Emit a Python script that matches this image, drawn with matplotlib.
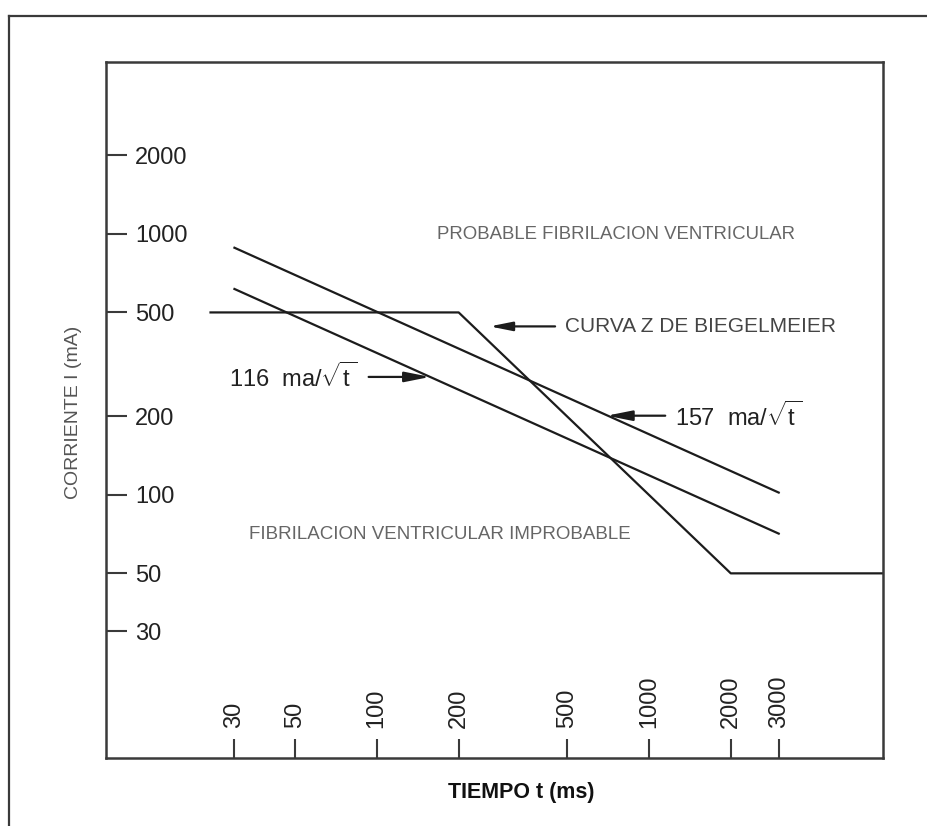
import matplotlib
matplotlib.use('Agg')
import matplotlib.pyplot as plt
from matplotlib.lines import Line2D

# Ticks of the log-log chart
x_ticks = [30, 50, 100, 200, 500, 1000, 2000, 3000]
y_ticks = [30, 50, 100, 200, 500, 1000, 2000]

# Curva Z de Biegelmeier (t en ms, I en mA)
z_t = [24.5, 200, 2000, 10000]
z_i = [500, 500, 50, 50]

# Rectas 157 ma/sqrt(t) y 116 ma/sqrt(t), extremos
l157_t = [30, 3000]
l157_i = [885, 102]
l116_t = [30, 3000]
l116_i = [615, 71]

plt.rcParams['font.family'] = ['Liberation Sans', 'DejaVu Sans']
plt.rcParams['mathtext.fontset'] = 'custom'
plt.rcParams['mathtext.rm'] = 'Liberation Sans'
plt.rcParams['mathtext.it'] = 'Liberation Sans'

line_c = '#1c1c1c'
frame_c = '#3a3a3a'

fig = plt.figure(figsize=(9.28, 8.26), dpi=100)
ax = fig.add_axes([0.114, 0.0823, 0.8375, 0.8427])

# outer frame of the original figure (top and left only)
fig.add_artist(Line2D([0.0097, 1.0], [0.9806, 0.9806], transform=fig.transFigure,
                      color=frame_c, lw=1.6))
fig.add_artist(Line2D([0.0097, 0.0097], [0.0, 0.9806], transform=fig.transFigure,
                      color=frame_c, lw=1.6))

ax.plot(z_t, z_i, color=line_c, lw=1.6)
ax.plot(l157_t, l157_i, color=line_c, lw=1.6)
ax.plot(l116_t, l116_i, color=line_c, lw=1.6)

ax.set_xscale('log')
ax.set_yscale('log')
ax.set_xlim(10.1, 7250)
ax.set_ylim(9.8, 4560)

ax.set_xticks(x_ticks)
ax.set_xticklabels([str(v) for v in x_ticks])
ax.set_yticks(y_ticks)
ax.set_yticklabels([str(v) for v in y_ticks])
ax.minorticks_off()

ax.tick_params(axis='y', direction='in', length=15, width=1.5, color=frame_c,
               pad=-21, labelsize=17, labelcolor='#222222')
ax.tick_params(axis='x', direction='in', length=14, width=1.5, color=frame_c,
               pad=-21.5, labelsize=17, labelcolor='#222222', labelrotation=90)
plt.setp(ax.get_yticklabels(), ha='left')
plt.setp(ax.get_xticklabels(), va='bottom', ha='center')

for s in ax.spines.values():
    s.set_linewidth(1.8)
    s.set_color(frame_c)

ax.set_ylabel('CORRIENTE I (mA)', fontsize=14, color='#555555')
ax.yaxis.set_label_coords(-0.041, 0.497)
ax.yaxis.label.set_va('center')
ax.set_xlabel('TIEMPO t (ms)', fontsize=15.5, fontweight='bold', color='#111111')
ax.xaxis.set_label_coords(0.535, -0.050)
ax.xaxis.label.set_va('center')

ax.text(757, 991, 'PROBABLE FIBRILACION VENTRICULAR', fontsize=13.4,
        color='#666666', ha='center', va='center')
ax.text(171, 70.3, 'FIBRILACION VENTRICULAR IMPROBABLE', fontsize=13.5,
        color='#666666', ha='center', va='center')

arrow = dict(arrowstyle='-|>,head_length=0.9,head_width=0.18', lw=1.6,
             color=line_c, shrinkB=0)
ax.annotate('CURVA Z DE BIEGELMEIER', xy=(260, 442), xytext=(491, 442),
            fontsize=15, color='#444444', ha='left', va='center',
            arrowprops=dict(arrow, shrinkA=5))
ax.annotate(r'157  ma/$\sqrt{\mathrm{t}\,}$', xy=(700, 201), xytext=(1247, 201),
            fontsize=17, color='#222222', ha='left', va='center',
            arrowprops=dict(arrow, shrinkA=5))
ax.annotate(r'116  ma/$\sqrt{\mathrm{t}\,}$', xy=(157, 283), xytext=(85, 283),
            fontsize=17, color='#222222', ha='right', va='center',
            arrowprops=dict(arrow, shrinkA=6))

fig.savefig('out.png', dpi=100, facecolor='white')
